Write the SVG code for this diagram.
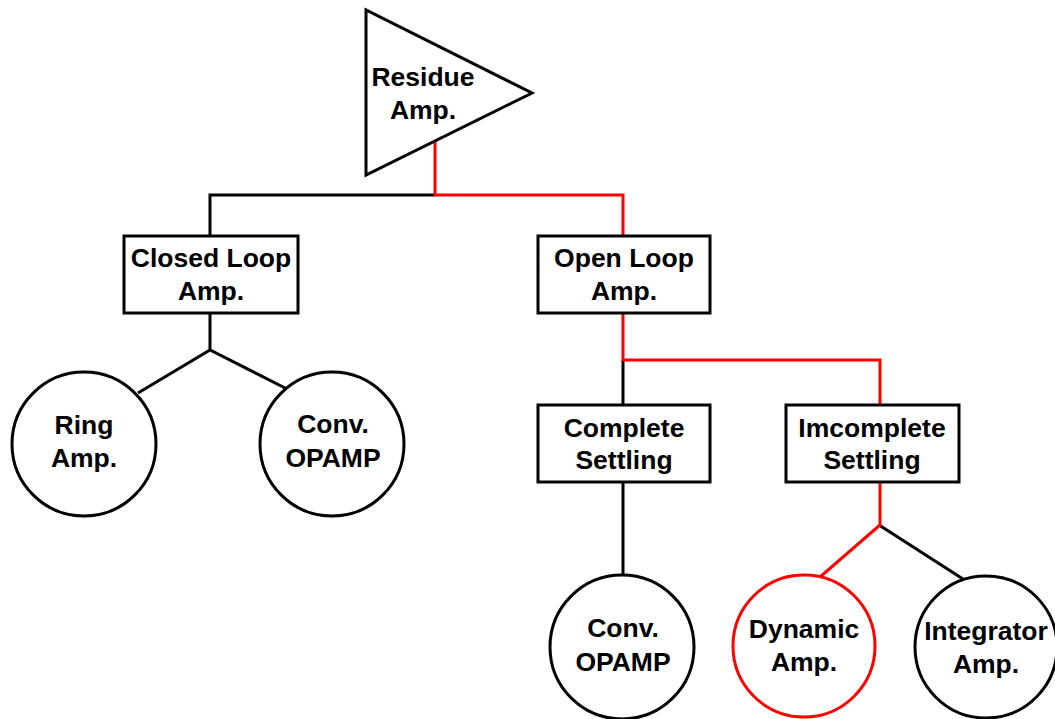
<svg xmlns="http://www.w3.org/2000/svg" width="1055" height="719" viewBox="0 0 1055 719">
  <style>
    .shape { fill: #ffffff; stroke: #000000; stroke-width: 3; }
    .hot { stroke: #ff0000; }
    .wire { fill: none; stroke: #000000; stroke-width: 3; stroke-linejoin: miter; }
    .wire.hot { stroke: #ff0000; }
    text { font-family: "Liberation Sans", Arial, sans-serif; font-weight: bold; font-size: 26.5px; fill: #000000; text-anchor: middle; }
  </style>
  <rect width="1055" height="719" fill="#ffffff"/>

  <!-- connectors -->
  <g id="connectors">
    <!-- residue amp split -->
    <polyline class="wire" points="435,195 210,195 210,236"/>
    <polyline class="wire hot" points="435,142 435,195 623,195 623,236"/>
    <!-- closed loop branches -->
    <polyline class="wire" points="210,313 210,350"/>
    <polyline class="wire" points="138,393 210,350 289,390"/>
    <!-- open loop branches -->
    <polyline class="wire" points="623,360 623,405"/>
    <polyline class="wire hot" points="623,313 623,360 880,360 880,405"/>
    <!-- complete settling -->
    <polyline class="wire" points="623,482 623,575"/>
    <!-- incomplete settling -->
    <polyline class="wire" points="879,525 963,579"/>
    <polyline class="wire hot" points="880,482 880,525 820,577"/>
  </g>

  <g id="residue-amp">
    <polygon class="shape" points="366,10 366,175 532,93"/>
    <text x="423" y="86">Residue</text>
    <text x="423" y="119">Amp.</text>
  </g>

  <g id="closed-loop">
    <rect class="shape" x="124" y="236" width="174" height="77"/>
    <text x="211" y="267">Closed Loop</text>
    <text x="211" y="300">Amp.</text>
  </g>

  <g id="open-loop">
    <rect class="shape" x="538" y="236" width="172" height="77"/>
    <text x="624" y="267">Open Loop</text>
    <text x="624" y="300">Amp.</text>
  </g>

  <g id="ring-amp">
    <circle class="shape" cx="84" cy="444" r="72"/>
    <text x="84" y="434">Ring</text>
    <text x="84" y="467">Amp.</text>
  </g>

  <g id="conv-opamp-closed">
    <circle class="shape" cx="332" cy="444" r="72"/>
    <text x="333" y="433">Conv.</text>
    <text x="333" y="467">OPAMP</text>
  </g>

  <g id="complete-settling">
    <rect class="shape" x="538" y="405" width="172" height="77"/>
    <text x="624" y="437">Complete</text>
    <text x="624" y="469">Settling</text>
  </g>

  <g id="incomplete-settling">
    <rect class="shape" x="786" y="405" width="173" height="77"/>
    <text x="872" y="437">Imcomplete</text>
    <text x="872" y="469">Settling</text>
  </g>

  <g id="conv-opamp-open">
    <circle class="shape" cx="622" cy="647" r="72"/>
    <text x="623" y="637">Conv.</text>
    <text x="623" y="671">OPAMP</text>
  </g>

  <g id="dynamic-amp">
    <circle class="shape hot" cx="804" cy="646" r="71"/>
    <text x="804" y="638">Dynamic</text>
    <text x="804" y="671">Amp.</text>
  </g>

  <g id="integrator-amp">
    <circle class="shape" cx="986" cy="647" r="71"/>
    <text x="986" y="640">Integrator</text>
    <text x="986" y="673">Amp.</text>
  </g>
</svg>
